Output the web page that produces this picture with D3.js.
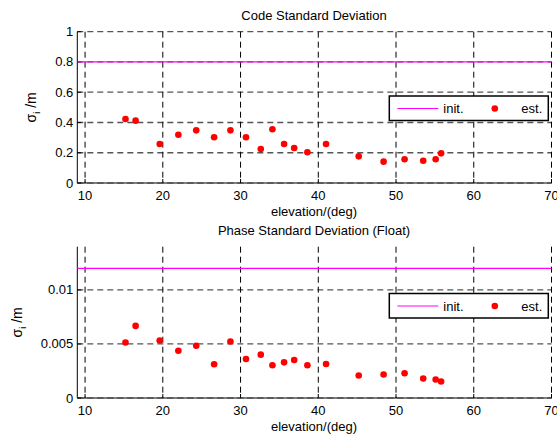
<!DOCTYPE html>
<html>
<head>
<meta charset="utf-8">
<style>
    body { margin: 0; background: #fff; }
    svg { font-family: 'Liberation Sans', Arial, sans-serif; }
</style>
</head>
<body>
<svg width="557" height="436"></svg>
<script src="https://d3js.org/d3.v7.min.js"></script>
<script>

    // elevation of each satellite (deg)
    let elevation = [15.2, 16.5, 19.6, 22.0, 24.3, 26.6, 28.7, 30.7, 32.6, 34.1,
        35.6, 36.9, 38.6, 41.0, 45.2, 48.4, 51.1, 53.5, 55.1, 55.8]

    // estimated code std (m)
    let codeEst = [0.423, 0.412, 0.258, 0.319, 0.348, 0.302, 0.348, 0.302, 0.225, 0.355,
        0.258, 0.231, 0.203, 0.258, 0.176, 0.141, 0.157, 0.147, 0.157, 0.196]

    // estimated phase std (m)
    let phaseEst = [0.00514, 0.00667, 0.00532, 0.00437, 0.00483, 0.00312, 0.00523, 0.00361, 0.00401, 0.00303,
        0.00330, 0.00352, 0.00303, 0.00315, 0.00208, 0.00217, 0.00229, 0.00181, 0.00171, 0.00153]

    let codeInit = 0.8
    let phaseInit = 0.012

    let xTicks = [10, 20, 30, 40, 50, 60, 70]
    let codeTicks = [0, 0.2, 0.4, 0.6, 0.8, 1]
    let phaseTicks = [0, 0.005, 0.01]

    let svg = d3.select("svg")

    let left = 77.3, right = 551.5

    let x = d3.scaleLinear()
        .domain([9, 70])
        .range([left, right])

    function panel(opt) {
        let y = d3.scaleLinear()
            .domain(opt.domain)
            .range([opt.bottom, opt.top])

        let g = svg.append("g")

        // horizontal grid (gray dashed)
        g.selectAll(".hgrid")
            .data(opt.ticks)
            .join("line")
            .attr("x1", left).attr("x2", right)
            .attr("y1", d => y(d)).attr("y2", d => y(d))
            .style("stroke", "#555")
            .style("stroke-width", 1.3)
            .style("stroke-dasharray", "6,4")

        // vertical grid (black dashed)
        g.selectAll(".vgrid")
            .data(xTicks)
            .join("line")
            .attr("x1", d => x(d)).attr("x2", d => x(d))
            .attr("y1", opt.top).attr("y2", opt.bottom)
            .style("stroke", "#000")
            .style("stroke-width", 1)
            .style("stroke-dasharray", "6,4")

        // axes lines
        g.append("line")
            .attr("x1", left).attr("x2", left)
            .attr("y1", opt.top).attr("y2", opt.bottom)
            .style("stroke", "#000")
        g.append("line")
            .attr("x1", left).attr("x2", right)
            .attr("y1", opt.bottom).attr("y2", opt.bottom)
            .style("stroke", "#000")
        g.append("line")
            .attr("x1", left).attr("x2", right)
            .attr("y1", opt.bottom).attr("y2", opt.bottom)
            .style("stroke", "#666")
            .style("stroke-width", 1.3)
            .style("stroke-dasharray", "6,4")

        // y tick marks and labels
        g.selectAll(".ytick")
            .data(opt.ticks)
            .join("line")
            .attr("x1", left).attr("x2", left + 4)
            .attr("y1", d => y(d)).attr("y2", d => y(d))
            .style("stroke", "#000")
        g.selectAll(".ylab")
            .data(opt.ticks)
            .join("text")
            .attr("x", left - 4)
            .attr("y", d => y(d) + 4.5)
            .attr("text-anchor", "end")
            .style("font-size", "13px")
            .text(d => d)

        // x tick marks and labels
        g.selectAll(".xtick")
            .data(xTicks)
            .join("line")
            .attr("x1", d => x(d)).attr("x2", d => x(d))
            .attr("y1", opt.bottom).attr("y2", opt.bottom - 4)
            .style("stroke", "#000")
        g.selectAll(".xlab")
            .data(xTicks)
            .join("text")
            .attr("x", d => x(d))
            .attr("y", opt.bottom + 17)
            .attr("text-anchor", "middle")
            .style("font-size", "13px")
            .text(d => d)

        // init line
        g.append("line")
            .attr("x1", left).attr("x2", right)
            .attr("y1", y(opt.init)).attr("y2", y(opt.init))
            .style("stroke", "#ff00ff")
            .style("stroke-width", 1.2)

        // estimated points
        g.selectAll(".dot")
            .data(opt.values)
            .join("circle")
            .attr("cx", (d, i) => x(elevation[i]))
            .attr("cy", d => y(d))
            .attr("r", 3.3)
            .style("fill", "#ff0000")

        // title and labels
        g.append("text")
            .attr("x", 314).attr("y", opt.top - 12)
            .attr("text-anchor", "middle")
            .style("font-size", "13px")
            .text(opt.title)

        g.append("text")
            .attr("x", 314).attr("y", opt.bottom + 33)
            .attr("text-anchor", "middle")
            .style("font-size", "13px")
            .text("elevation/(deg)")

        let yl = g.append("text")
            .attr("transform", "translate(" + opt.ylabX + "," + ((opt.top + opt.bottom) / 2) + ") rotate(-90)")
            .attr("text-anchor", "middle")
            .style("font-size", "14px")
        yl.append("tspan").text("σ")
        yl.append("tspan").attr("dy", 4).style("font-size", "9px").text("i")
        yl.append("tspan").attr("dy", -4).text(" /m")

        // legend
        let lg = g.append("g").attr("transform", "translate(389.3," + opt.legTop + ")")
        lg.append("rect")
            .attr("width", 159).attr("height", 24.5)
            .style("fill", "#fff")
            .style("stroke", "#000")
            .style("stroke-width", 1.5)
        lg.append("line")
            .attr("x1", 8).attr("x2", 49)
            .attr("y1", 12.5).attr("y2", 12.5)
            .style("stroke", "#ff00ff")
        lg.append("text")
            .attr("x", 54).attr("y", 17)
            .style("font-size", "13px")
            .text("init.")
        lg.append("circle")
            .attr("cx", 105.5).attr("cy", 12.5).attr("r", 3.3)
            .style("fill", "#ff0000")
        lg.append("text")
            .attr("x", 153).attr("y", 17)
            .attr("text-anchor", "end")
            .style("font-size", "13px")
            .text("est.")
    }

    panel({
        domain: [0, 1], top: 31.7, bottom: 183, ticks: codeTicks,
        values: codeEst, init: codeInit, title: "Code Standard Deviation",
        ylabX: 36, legTop: 96
    })

    panel({
        domain: [0, 0.014], top: 246.7, bottom: 398, ticks: phaseTicks,
        values: phaseEst, init: phaseInit, title: "Phase Standard Deviation (Float)",
        ylabX: 22, legTop: 293.5
    })

</script>
</body>
</html>
